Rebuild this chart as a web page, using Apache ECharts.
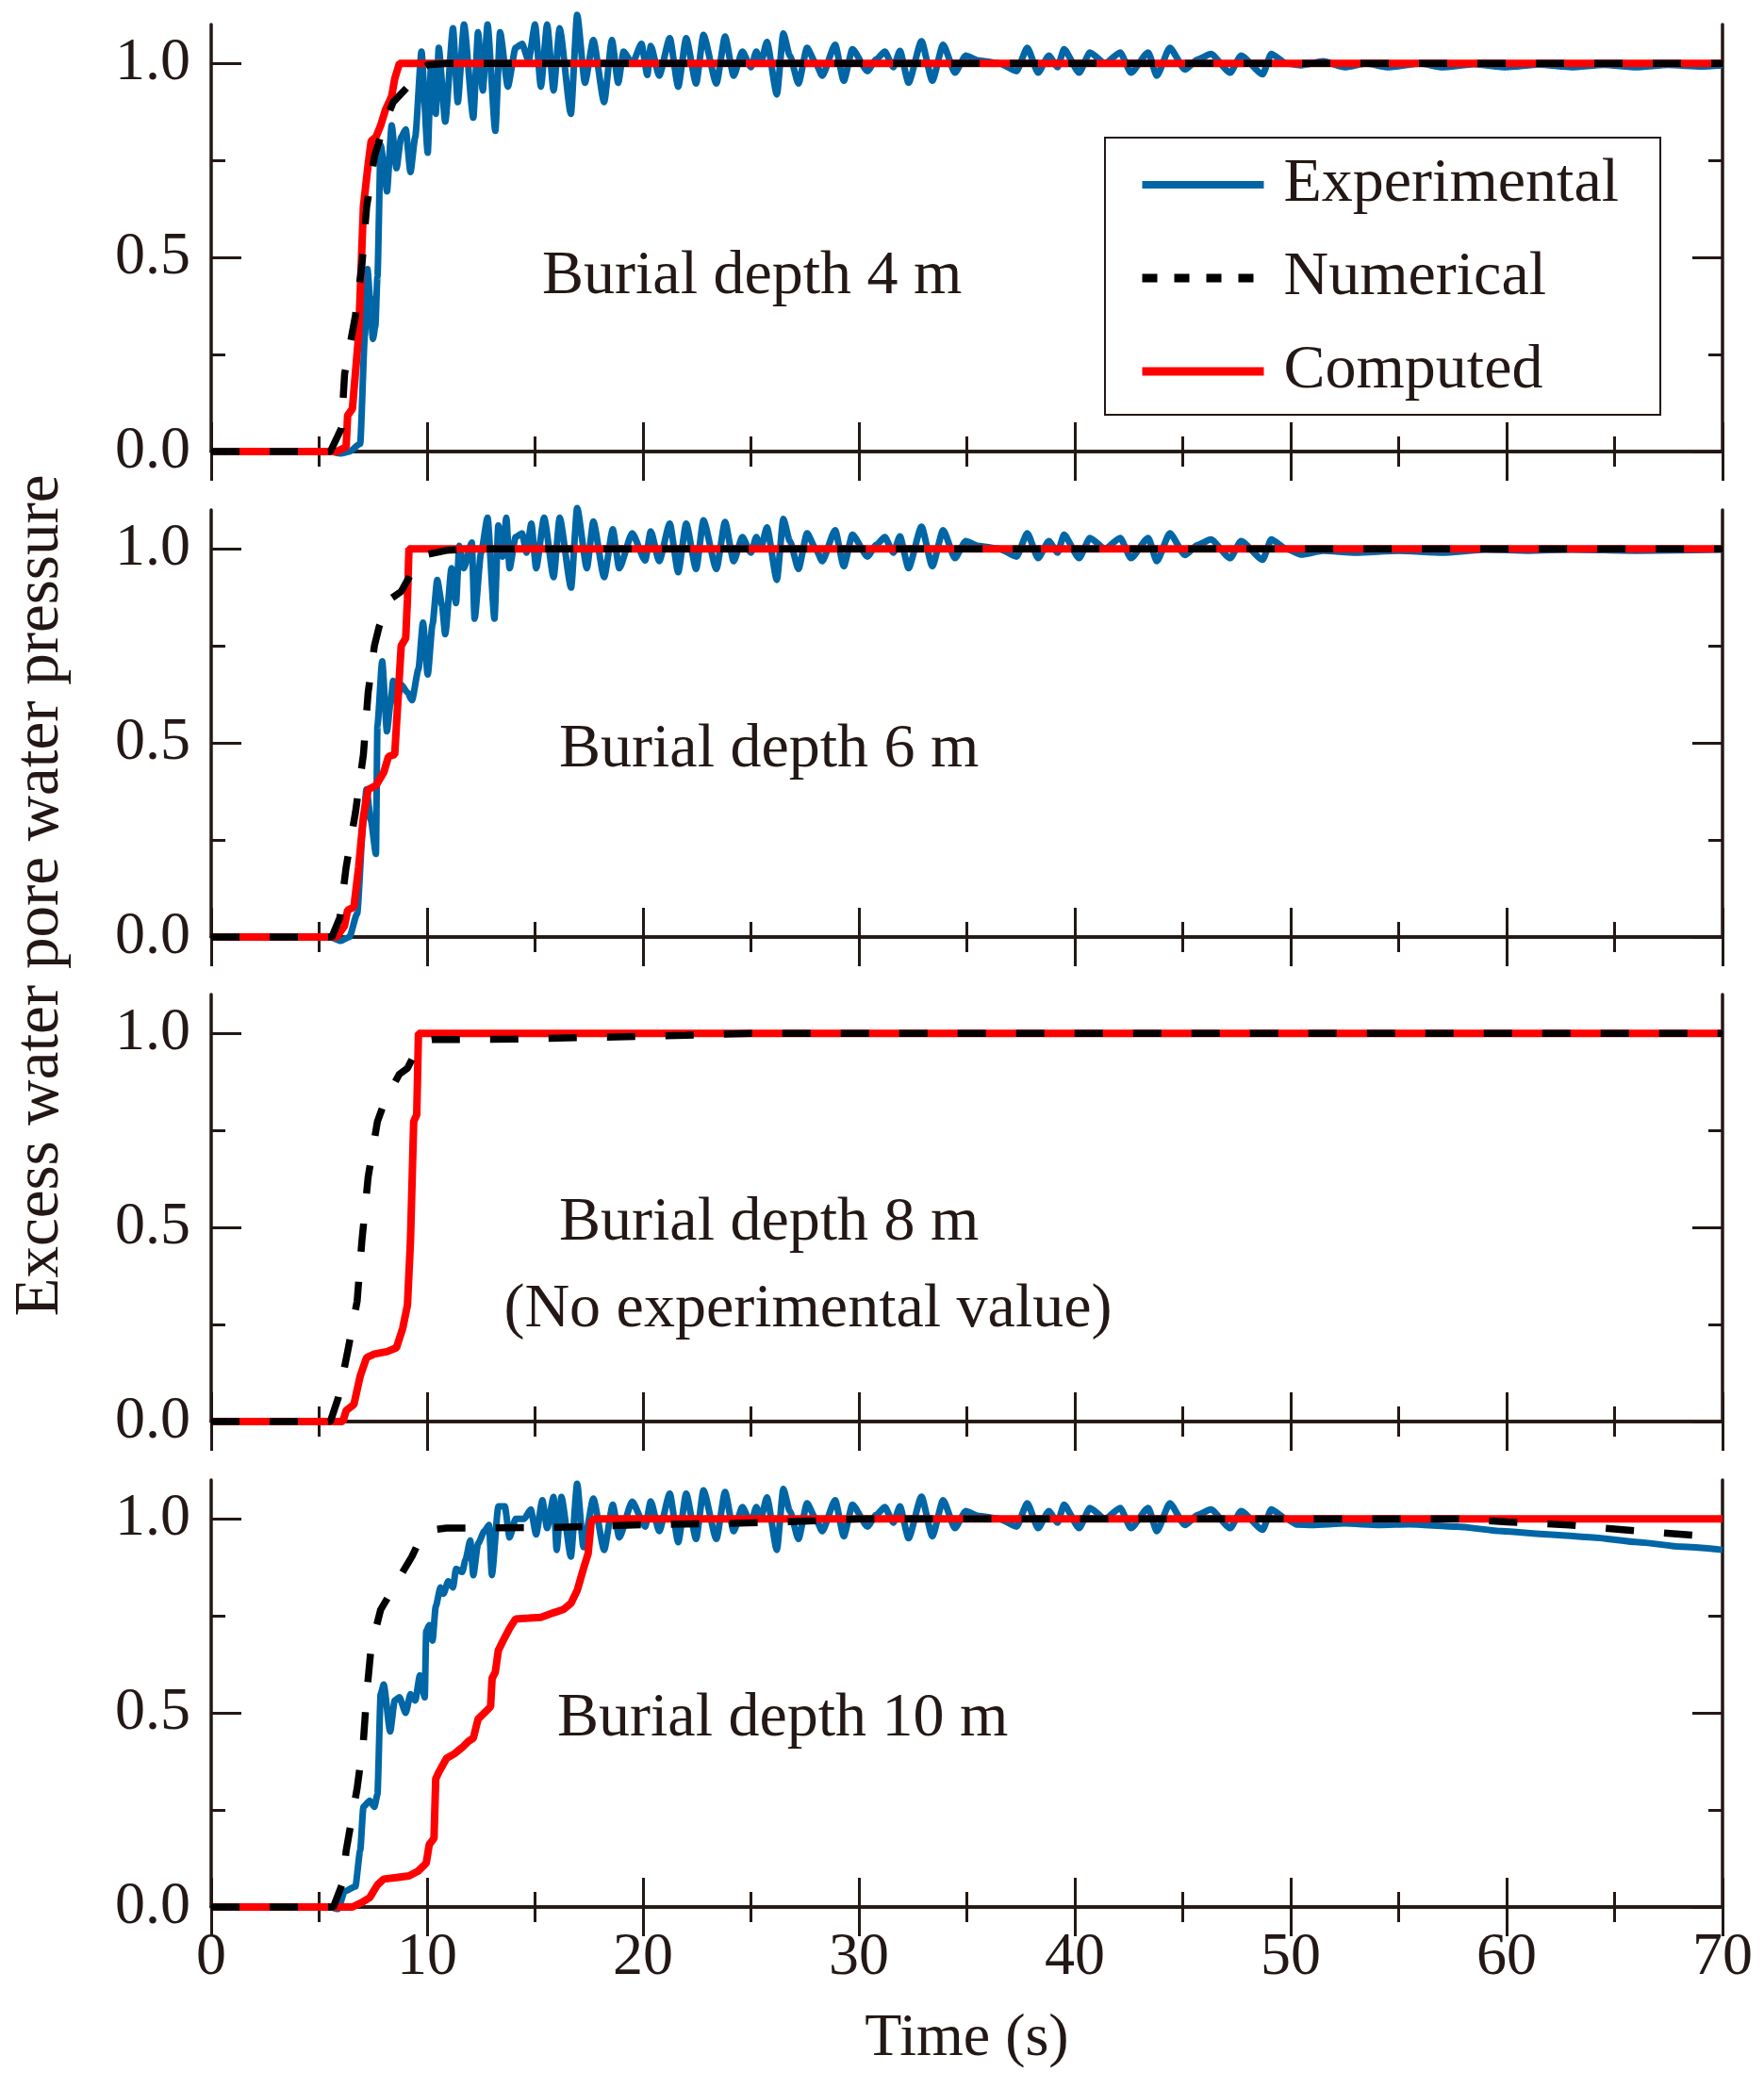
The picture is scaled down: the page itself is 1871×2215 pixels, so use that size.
<!doctype html>
<html lang="en">
<head>
    <meta charset="UTF-8">
    <script src="https://cdn.jsdelivr.net/npm/echarts@6.0.0/dist/echarts.min.js"></script>
    <title>Excess water pore water pressure</title>
    <style>
        body { margin: 0; background: #fff; }
    </style>
</head>
<body>
<div id="main" style="width: 1871px;height:2215px;"></div>
<script>
    // x ticks / y ticks
    var xMajor = [0, 10, 20, 30, 40, 50, 60, 70];
    var yMajor = [0, 0.5, 1.0];
    var yMinor = [0.25, 0.75];
    var panelLabels = ['Burial depth 4 m', 'Burial depth 6 m', 'Burial depth 8 m', 'Burial depth 10 m'];

    // experimental, middle part (same record in the 4 m, 6 m and 10 m panels)
    var expMid = [[20.36,1.045],[20.75,0.968],[21.24,1.065],[21.63,0.94],[22.0,1.065],[22.46,0.948],[22.8,1.073],
        [23.4,0.948],[23.8,1.069],[24.2,0.968],[24.6,1.03],[25.0,0.99],[25.25,1.03],[25.45,1.0],[25.74,1.055],
        [26.2,0.92],[26.5,1.077],[26.8,1.02],[27.2,0.948],[27.6,1.04],[28.0,1.0],[28.3,0.968],[28.9,1.048],
        [29.3,0.955],[29.7,1.036],[30.4,0.98],[30.8,1.01],[31.2,1.03],[31.6,0.99],[31.9,1.032],[32.3,0.95],
        [32.9,1.057],[33.4,0.955],[33.9,1.048],[34.45,0.976],[34.95,1.02],[35.5,1.008],[36.5,1.0],[37.3,0.98],
        [37.8,1.04],[38.3,0.976],[38.8,1.02],[39.2,0.99],[39.5,1.036],[40.2,0.976],[40.7,1.028],[41.4,1.0],
        [42.1,1.028],[42.6,0.976],[43.4,1.028],[43.8,0.968],[44.4,1.04],[45.1,0.984],[45.7,1.01],[46.3,1.024],
        [47.2,0.976],[47.7,1.02],[48.7,0.972],[49.1,1.024],[49.8,1.0]];

    // burial depth 4 m
    var exp4Rise = [[0,0],[5.5,0],[6.0,-0.005],[6.4,0],[6.9,0.02],[7.12,0.30],[7.24,0.47],[7.35,0.40],[7.49,0.29],
        [7.6,0.32],[7.70,0.45],[7.85,0.79],[8.0,0.74],[8.14,0.67],[8.36,0.84],[8.58,0.73],[8.80,0.81],[9.01,0.83],
        [9.23,0.72],[9.45,0.81],[9.74,1.03],[10.03,0.77],[10.18,0.99],[10.40,0.87],[10.54,1.04],[10.84,0.85],
        [11.2,1.09],[11.42,0.90],[11.71,1.10],[12.14,0.86],[12.36,1.08],[12.58,0.93],[12.8,1.10],[13.16,0.826],
        [13.38,1.08],[13.74,0.94],[14.1,1.04],[14.4,1.05],[14.7,1.007],[15.0,1.10],[15.27,0.94],[15.56,1.10],
        [15.86,0.93],[16.14,1.09],[16.66,0.87],[16.95,1.125],[17.31,0.95],[17.7,1.06],[18.2,0.90],[18.56,1.06],
        [18.85,0.95],[19.1,1.03],[19.5,1.0],[19.93,1.05],[20.2,0.97]];
    var exp4Tail = [[50.5,0.995],[51.5,1.005],[52.5,0.99],[53.5,1.0],[54.5,0.99],[56,1.0],[57,0.99],[58.5,0.998],
        [60,0.99],[61.5,0.997],[63,0.99],[64.5,0.996],[66,0.99],[67.5,0.996],[69,0.992],[70,0.995]];
    var num4 = [[0,0],[5.52,0],[6.03,0.06],[6.18,0.20],[6.68,0.35],[6.98,0.48],[7.20,0.63],[7.56,0.76],[8.0,0.84],
        [8.43,0.90],[9.16,0.943],[9.45,0.976],[10.03,0.996],[10.9,1.0],[70,1.0]];
    var comp4 = [[0,0],[5.81,0],[6.25,0.012],[6.32,0.093],[6.54,0.11],[6.83,0.30],[7.05,0.63],[7.27,0.74],[7.41,0.80],
        [7.63,0.81],[7.85,0.84],[8.07,0.88],[8.36,0.915],[8.50,0.96],[8.72,1.0],[70,1.0]];

    // burial depth 6 m
    var exp6Rise = [[0,0],[5.5,0],[6.0,-0.01],[6.4,0],[6.76,0.06],[7.05,0.30],[7.19,0.38],[7.4,0.30],[7.63,0.214],
        [7.70,0.545],[7.92,0.71],[8.14,0.53],[8.3,0.6],[8.43,0.66],[8.6,0.61],[8.8,0.65],[9.09,0.63],[9.3,0.61],
        [9.6,0.69],[9.81,0.81],[10.03,0.676],[10.25,0.805],[10.47,0.92],[10.69,0.855],[10.84,0.78],[11.13,0.95],
        [11.34,0.86],[11.49,1.008],[11.7,0.95],[12.07,1.016],[12.2,0.82],[12.5,0.99],[12.8,1.08],[13.12,0.82],
        [13.3,1.06],[13.5,0.98],[13.67,1.08],[13.82,0.95],[14.1,1.03],[14.4,1.04],[14.6,0.99],[14.83,1.065],
        [15.05,0.95],[15.42,1.08],[15.86,0.927],[16.14,1.08],[16.67,0.90],[16.95,1.105],[17.4,0.95],[17.7,1.07],
        [18.2,0.927],[18.6,1.05],[18.9,0.95],[19.5,1.04],[20.1,0.97]];
    var exp6Tail = [[50.5,0.985],[51.5,0.995],[53,0.99],[55,0.995],[57,0.99],[59,0.998],[61,0.995],[63,0.998],
        [66,0.995],[70,0.998]];
    var num6 = [[0,0],[5.59,0],[5.96,0.05],[6.25,0.18],[6.68,0.32],[7.05,0.47],[7.27,0.63],[7.56,0.75],[7.78,0.80],
        [8.29,0.87],[8.8,0.89],[9.3,0.94],[9.89,0.984],[10.9,0.996],[12,1.0],[70,1.0]];
    var comp6 = [[0,0],[5.81,0],[6.17,0.028],[6.32,0.069],[6.61,0.077],[6.83,0.18],[7.05,0.31],[7.27,0.38],[7.63,0.39],
        [8.0,0.425],[8.21,0.465],[8.5,0.47],[8.65,0.61],[8.80,0.75],[9.01,0.77],[9.09,0.87],[9.16,1.0],[70,1.0]];

    // burial depth 8 m (no experimental value)
    var num8 = [[0,0],[5.52,0],[5.88,0.06],[6.32,0.18],[6.76,0.31],[6.98,0.465],[7.27,0.63],[7.7,0.773],[8.07,0.83],
        [8.72,0.895],[9.09,0.91],[9.45,0.95],[9.81,0.98],[10.3,0.984],[14,0.985],[18,0.99],[22,0.995],[25,1.0],[70,1.0]];
    var comp8 = [[0,0],[6.1,0],[6.25,0.028],[6.61,0.044],[6.9,0.117],[7.2,0.165],[7.56,0.174],[8.14,0.18],[8.58,0.19],
        [8.87,0.24],[9.09,0.30],[9.23,0.465],[9.38,0.773],[9.52,0.79],[9.6,1.0],[70,1.0]];

    // burial depth 10 m
    var exp10Rise = [[0,0],[5.5,0],[5.88,-0.005],[6.18,0.04],[6.68,0.053],[6.9,0.145],[7.05,0.258],[7.34,0.274],
        [7.56,0.258],[7.7,0.29],[7.85,0.548],[7.99,0.573],[8.29,0.452],[8.5,0.532],[8.72,0.54],[9.01,0.5],
        [9.23,0.548],[9.45,0.532],[9.67,0.597],[9.89,0.54],[9.96,0.71],[10.1,0.726],[10.25,0.686],[10.4,0.774],
        [10.62,0.823],[10.76,0.807],[10.98,0.839],[11.2,0.823],[11.34,0.871],[11.63,0.863],[11.78,0.895],[12.0,0.944],
        [12.14,0.855],[12.36,0.936],[12.65,0.968],[12.87,0.984],[13.0,0.855],[13.3,1.032],[13.6,1.032],[13.82,0.952],
        [14.1,1.0],[14.5,1.0],[14.8,1.024],[15.05,0.96],[15.34,1.048],[15.56,0.976],[15.86,1.056],[16.0,0.92],
        [16.22,1.056],[16.66,0.903],[16.95,1.09],[17.24,0.927],[17.7,1.052],[18.2,0.92],[18.6,1.036],[18.9,0.952],
        [19.5,1.044],[20.1,0.98]];
    var exp10Tail = [[50.3,0.985],[51,0.984],[52.5,0.988],[54.1,0.984],[55.5,0.986],[57.7,0.98],[59.8,0.968],
        [61.9,0.96],[64,0.952],[66.1,0.94],[68.1,0.928],[70,0.92]];
    var num10 = [[0,0],[5.66,0],[6.1,0.064],[6.25,0.145],[6.76,0.306],[7.05,0.427],[7.2,0.548],[7.41,0.67],
        [7.85,0.766],[8.29,0.807],[8.87,0.863],[9.3,0.903],[9.74,0.955],[10.18,0.971],[10.9,0.976],[16,0.978],
        [20,0.985],[24,0.988],[28,0.995],[30,1.0],[57.7,1.0],[60,0.992],[62.9,0.984],[66,0.969],[69.3,0.955],[70,0.952]];
    var comp10 = [[0,0],[6.54,0],[6.98,0.012],[7.34,0.024],[7.70,0.057],[7.99,0.072],[8.58,0.076],[9.16,0.08],
        [9.6,0.093],[9.96,0.113],[10.1,0.161],[10.32,0.177],[10.4,0.33],[10.54,0.347],[10.9,0.383],[11.27,0.395],
        [11.63,0.411],[11.92,0.427],[12.14,0.435],[12.36,0.484],[12.65,0.50],[12.94,0.516],[13.01,0.589],[13.16,0.605],
        [13.3,0.661],[13.52,0.686],[13.82,0.718],[14.1,0.742],[14.7,0.744],[15.27,0.746],[15.86,0.758],[16.3,0.766],
        [16.66,0.782],[16.95,0.815],[17.24,0.871],[17.46,0.911],[17.6,0.992],[17.75,1.0],[70,1.0]];

    var expData = [exp4Rise.concat(expMid, exp4Tail), exp6Rise.concat(expMid, exp6Tail), null,
        exp10Rise.concat(expMid, exp10Tail)];
    var numData = [num4, num6, num8, num10];
    var compData = [comp4, comp6, comp8, comp10];

    var ink = '#231815';
    var font = 'Liberation Serif';
    var gridTops = [26, 541, 1055, 1570];
    var labelPos = [[575, 294], [593, 796], [593, 1298], [591, 1824]];

    var myChart = echarts.init(document.getElementById('main'));

    var grids = [], xAxes = [], yAxes = [], series = [], graphics = [];
    for (var g = 0; g < 4; g++) {
        grids.push({left: 224, width: 1603, top: gridTops[g], height: 453});
        // bottom and top x axes
        ['bottom', 'top'].forEach(function (pos) {
            var ax = {
                type: 'value', gridIndex: g, position: pos, min: 0, max: 70, interval: 10,
                axisLine: {show: true, lineStyle: {color: ink, width: 3.5}},
                axisTick: {show: true, inside: true, length: 31, lineStyle: {color: ink, width: 3}},
                minorTick: {show: true, splitNumber: 2, length: 16, lineStyle: {color: ink, width: 3}},
                splitLine: {show: false},
                axisLabel: {show: false}
            };
            if (pos === 'bottom' && g === 3) {
                ax.axisLabel = {show: true, margin: 22, color: ink, fontFamily: font, fontSize: 64};
                ax.name = 'Time (s)';
                ax.nameLocation = 'middle';
                ax.nameGap = 108;
                ax.nameTextStyle = {color: ink, fontFamily: font, fontSize: 64};
            }
            xAxes.push(ax);
        });
        // left/right y axes, major and minor ticks
        ['left', 'right'].forEach(function (pos) {
            yAxes.push({
                type: 'value', gridIndex: g, position: pos, min: 0, max: 1.1,
                axisLine: {show: true, lineStyle: {color: ink, width: 3.5}},
                axisTick: {show: true, inside: true, length: 32, customValues: yMajor, lineStyle: {color: ink, width: 3}},
                splitLine: {show: false},
                axisLabel: {
                    show: pos === 'left', customValues: yMajor, margin: 22, color: ink, fontFamily: font, fontSize: 64,
                    formatter: function (v) { return v.toFixed(1); }
                }
            });
            yAxes.push({
                type: 'value', gridIndex: g, position: pos, min: 0, max: 1.1,
                axisLine: {show: false},
                axisTick: {show: true, inside: true, length: 15, customValues: yMinor, lineStyle: {color: ink, width: 3}},
                splitLine: {show: false},
                axisLabel: {show: false}
            });
        });

        if (expData[g]) {
            series.push({
                name: 'Experimental', type: 'line', xAxisIndex: 2 * g, yAxisIndex: 4 * g,
                data: expData[g], symbol: 'none', clip: false, smooth: 0.2, smoothMonotone: 'x', z: 2,
                lineStyle: {color: '#0066a6', width: 7}, itemStyle: {color: '#0066a6'}
            });
        }
        series.push({
            name: 'Computed', type: 'line', xAxisIndex: 2 * g, yAxisIndex: 4 * g,
            data: compData[g], symbol: 'none', clip: false, z: 3,
            lineStyle: {color: '#ff0000', width: 8}, itemStyle: {color: '#ff0000'}
        });
        series.push({
            name: 'Numerical', type: 'line', xAxisIndex: 2 * g, yAxisIndex: 4 * g,
            data: numData[g], symbol: 'none', clip: false, z: 4,
            lineStyle: {color: '#000', width: 7.5, type: [30, 32]}, itemStyle: {color: '#000'}
        });

        graphics.push({
            type: 'text', x: labelPos[g][0], y: labelPos[g][1], z: 10,
            style: {text: panelLabels[g], fill: ink, font: '66px "' + font + '"', align: 'left', verticalAlign: 'middle'}
        });
    }
    graphics.push({
        type: 'text', x: 857, y: 1390, z: 10,
        style: {text: '(No experimental value)', fill: ink, font: '66px "' + font + '"', align: 'center', verticalAlign: 'middle'}
    });
    graphics.push({
        type: 'text', x: 43, y: 950, rotation: Math.PI / 2, z: 10,
        style: {text: 'Excess water pore water pressure', fill: ink, font: '67px "' + font + '"', align: 'center', verticalAlign: 'middle'}
    });

    var option = {
        backgroundColor: '#fff',
        animation: false,
        grid: grids,
        xAxis: xAxes,
        yAxis: yAxes,
        legend: {
            data: [
                {name: 'Experimental', itemStyle: {opacity: 0}, lineStyle: {color: '#0066a6', width: 8, type: 'solid'}},
                {name: 'Numerical', itemStyle: {opacity: 0}, lineStyle: {color: '#000', width: 9, type: [16, 18]}},
                {name: 'Computed', itemStyle: {opacity: 0}, lineStyle: {color: '#ff0000', width: 9, type: 'solid'}}
            ],
            orient: 'vertical', left: 1172, top: 146,
            padding: [14, 44, 10, 35], itemGap: 27, itemWidth: 129, itemHeight: 20,
            borderColor: ink, borderWidth: 2, backgroundColor: '#fff',
            textStyle: {color: ink, fontFamily: font, fontSize: 66, lineHeight: 72, padding: [0, 0, 0, 16]}
        },
        graphic: graphics,
        series: series
    };
    myChart.setOption(option);
</script>
</body>
</html>
